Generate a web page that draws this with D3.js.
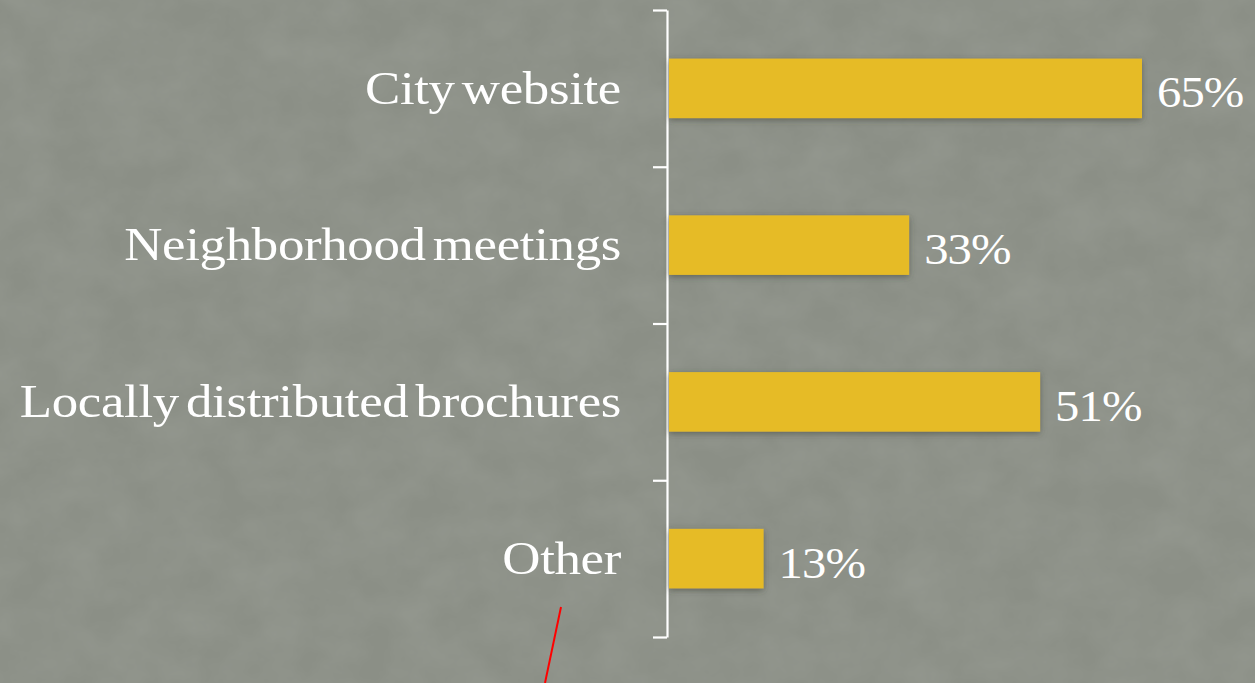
<!DOCTYPE html>
<html>
<head>
<meta charset="utf-8">
<script src="https://cdn.jsdelivr.net/npm/d3@7"></script>
<style>
  html, body { margin: 0; padding: 0; background: #8a8e85; }
  svg { display: block; }
</style>
</head>
<body>
<svg id="chart" width="1255" height="683"></svg>
<script>
const categories = ["City website", "Neighborhood meetings", "Locally distributed brochures", "Other"];
const values = [65, 33, 51, 13];
const valueLabels = ["65%", "33%", "51%", "13%"];

const W = 1255, H = 683;
const svg = d3.select("#chart");

const defs = svg.append("defs");
const tex = defs.append("filter").attr("id", "tex").attr("x", 0).attr("y", 0).attr("width", "100%").attr("height", "100%");
tex.append("feTurbulence").attr("type", "fractalNoise").attr("baseFrequency", "0.02 0.025").attr("numOctaves", 4).attr("seed", 7).attr("result", "n");
tex.append("feColorMatrix").attr("in", "n").attr("type", "matrix")
  .attr("values", "0 0 0 0 0.47  0 0 0 0 0.49  0 0 0 0 0.45  0 0 0 0.28 -0.07");
const sh = defs.append("filter").attr("id", "shadow").attr("x", "-10%").attr("y", "-30%").attr("width", "120%").attr("height", "160%");
sh.append("feDropShadow").attr("dx", 0).attr("dy", 2).attr("stdDeviation", 3).attr("flood-color", "#3a3c36").attr("flood-opacity", 0.55);

svg.append("rect").attr("width", W).attr("height", H).attr("fill", "#8b8f86");
svg.append("rect").attr("width", W).attr("height", H).attr("filter", "url(#tex)");

const axisX = 667;
const x = d3.scaleLinear().domain([0, 65]).range([axisX + 2, 1142]);
const y = d3.scaleBand().domain(categories).range([10, 637]).paddingInner(0.62).paddingOuter(0.31);

// Axis with ticks at band boundaries
const yb = d3.scaleLinear().domain([0, categories.length]).range([10, 637]);
const axis = d3.axisLeft(yb).tickValues(d3.range(0, categories.length + 1)).tickSize(14).tickSizeOuter(0).tickFormat("");
const ag = svg.append("g").attr("transform", `translate(${axisX},0)`).call(axis);
ag.selectAll("path, line").attr("stroke", "#ffffff").attr("stroke-width", 2.2);

const font = "'Liberation Serif', 'DejaVu Serif', serif";
const stretch = 1.15;

svg.append("g").selectAll("rect").data(values).join("rect")
  .attr("x", x(0))
  .attr("y", (d, i) => y(categories[i]))
  .attr("width", d => x(d) - x(0))
  .attr("height", y.bandwidth())
  .attr("fill", "#e6bb28")
  .attr("filter", "url(#shadow)");

svg.append("g").selectAll("text").data(categories).join("text")
  .attr("transform", d => `translate(621,${y(d) + y.bandwidth() / 2}) scale(${stretch},1)`)
  .attr("dy", "0.33em")
  .attr("text-anchor", "end")
  .attr("fill", "#ffffff")
  .attr("font-family", font)
  .attr("font-size", 46)
  .attr("letter-spacing", -0.3)
  .attr("word-spacing", -5)
  .text(d => d);

svg.append("g").selectAll("text").data(values).join("text")
  .attr("transform", (d, i) => `translate(${x(d) + 15},${y(categories[i]) + y.bandwidth() / 2}) scale(1.08,1)`)
  .attr("dy", "0.42em")
  .attr("fill", "#ffffff")
  .attr("font-family", font)
  .attr("font-size", 45)
  .attr("letter-spacing", -0.8)
  .text((d, i) => valueLabels[i]);

// red annotation stroke present in the reference
svg.append("line").attr("x1", 561).attr("y1", 607).attr("x2", 545).attr("y2", 683)
  .attr("stroke", "#ff0000").attr("stroke-width", 2);
</script>
</body>
</html>
